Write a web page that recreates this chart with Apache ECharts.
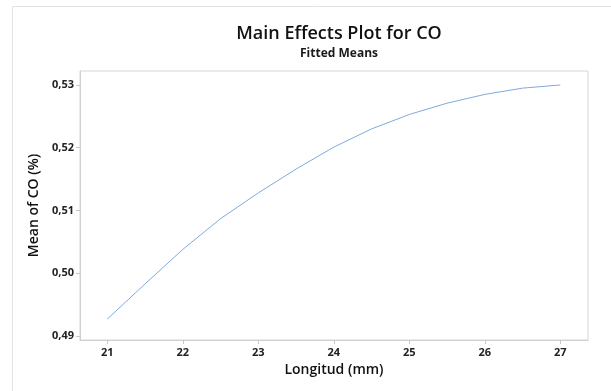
<!DOCTYPE html>
<html>
<head>
<meta charset="utf-8">
<script src="https://cdn.jsdelivr.net/npm/echarts@6/dist/echarts.min.js"></script>
<style>
  html, body { margin: 0; padding: 0; background: #fff; }
  #main { width: 611px; height: 391px; }
</style>
</head>
<body>
<div id="main"></div>
<script>
// longitud (mm) y media ajustada de CO (%)
var longitud = [21, 21.5, 22, 22.5, 23, 23.5, 24, 24.5, 25, 25.5, 26, 26.5, 27];
var meanCO = [0.4927, 0.4983, 0.5038, 0.5087, 0.5128, 0.5166, 0.5201, 0.5230, 0.5253, 0.5271, 0.5285, 0.5295, 0.5300];
var xTicks = [21, 22, 23, 24, 25, 26, 27];
var yTicks = [0.49, 0.50, 0.51, 0.52, 0.53];

var myChart = echarts.init(document.getElementById("main"));
var font = "Open Sans";

var option = {
  animation: false,
  textStyle: { fontFamily: font },
  graphic: [
    {
      // marco exterior
      type: "rect",
      shape: { x: 12.5, y: 6.5, width: 700, height: 500 },
      style: { fill: "none", stroke: "#e3e3e3", lineWidth: 1 },
      silent: true
    }
  ],
  title: {
    text: "Main Effects Plot for CO",
    subtext: "Fitted Means",
    left: 334,
    textAlign: "center",
    top: 20,
    itemGap: 5,
    textStyle: { fontFamily: font, fontSize: 18, fontWeight: 600, color: "#111" },
    subtextStyle: { fontFamily: font, fontSize: 12, fontWeight: "bold", color: "#1a1a1a" }
  },
  grid: {
    left: 80,
    right: 23,
    top: 71,
    bottom: 51,
    show: true,
    borderColor: "#d6d6d6",
    borderWidth: 1
  },
  xAxis: {
    type: "value",
    min: 20.638,
    max: 27.367,
    name: "Longitud (mm)",
    nameLocation: "middle",
    nameGap: 23,
    nameTextStyle: { fontFamily: font, fontSize: 14, fontWeight: 600, color: "#111" },
    splitLine: { show: false },
    axisLine: { show: true, lineStyle: { color: "#d0d0d0" } },
    axisTick: { show: true, length: 4, customValues: xTicks, lineStyle: { color: "#c8c8c8" } },
    axisLabel: {
      customValues: xTicks,
      margin: 7,
      fontSize: 11,
      fontWeight: "bold",
      color: "#222"
    }
  },
  yAxis: {
    type: "value",
    min: 0.48936,
    max: 0.53223,
    name: "Mean of CO (%)",
    nameLocation: "middle",
    nameGap: 38,
    nameTextStyle: { fontFamily: font, fontSize: 14, fontWeight: 600, color: "#111" },
    splitLine: { show: false },
    axisLine: { show: true, lineStyle: { color: "#d0d0d0" } },
    axisTick: { show: true, length: 4, customValues: yTicks, lineStyle: { color: "#c8c8c8" } },
    axisLabel: {
      customValues: yTicks,
      margin: 6,
      fontSize: 11,
      fontWeight: "bold",
      color: "#222",
      formatter: function (v) {
        return v.toFixed(2).replace(".", ",");
      }
    }
  },
  series: [
    {
      type: "line",
      data: longitud.map(function (x, i) { return [x, meanCO[i]]; }),
      showSymbol: false,
      lineStyle: { color: "#7ea9de", width: 1 }
    }
  ]
};
myChart.setOption(option);
</script>
</body>
</html>
